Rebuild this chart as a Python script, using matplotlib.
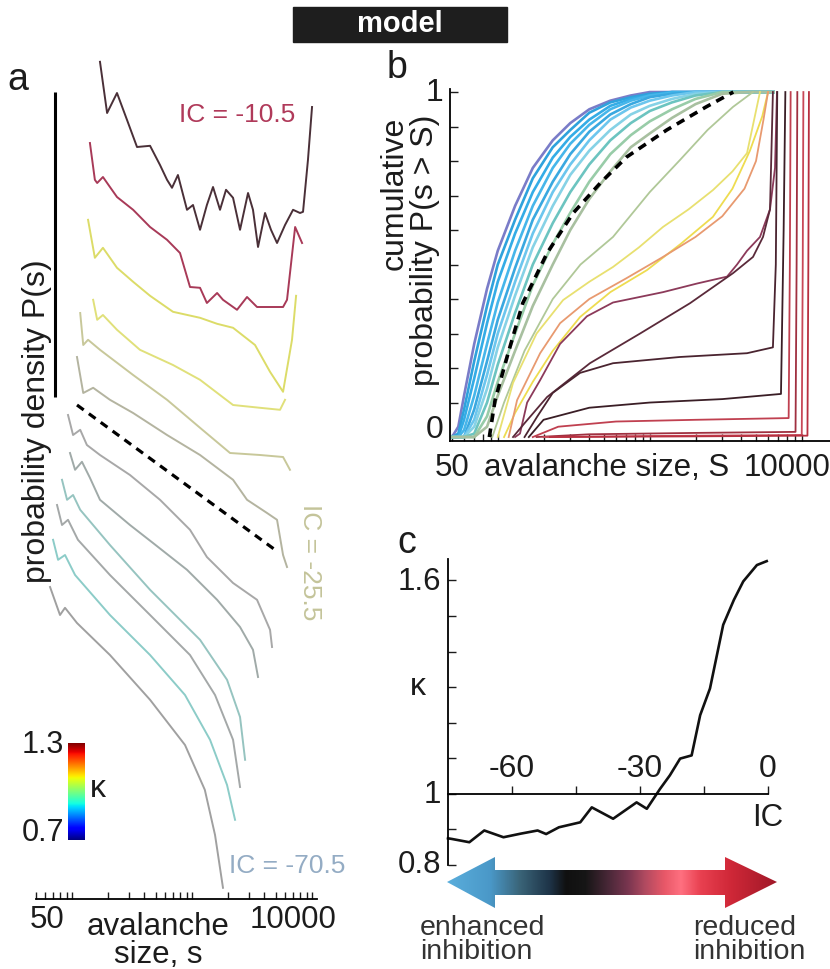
import numpy as np
import matplotlib
matplotlib.use('Agg')
import matplotlib.pyplot as plt
from matplotlib.colors import LinearSegmentedColormap
from matplotlib.patches import Polygon, Rectangle
from matplotlib.ticker import LogLocator, NullFormatter

plt.rcParams['font.family'] = ['Liberation Sans', 'DejaVu Sans']
INK = '#1c1c1c'

# ---------------- panel a: stacked size distributions (offset log10 P) -------------
pdf_sizes = [
    [171, 196, 237, 287, 348, 447, 541, 619, 681, 763, 908, 1019, 1166, 1330, 1496, 1711,
     1920, 2197, 2512, 2929, 3221, 3548, 4059, 4550, 5109, 5957, 6947, 7943, 8414, 9250, 10000],
    [141, 155, 162, 181, 207, 237, 323, 447, 619, 794, 962, 1166, 1330, 1618, 1811, 2371,
     2873, 3480, 4217, 5735, 6188, 7230, 8260],
    [136, 155, 181, 237, 323, 447, 694, 1166, 1618, 2197, 3349, 4467, 5735, 6810, 7364],
    [150, 162, 181, 237, 368, 694, 1166, 2197, 3690, 5412, 5957],
    [117, 124, 136, 171, 323, 619, 1166, 2074, 3690, 5735, 6550],
    [110, 124, 150, 207, 323, 619, 1166, 2197, 2873, 4217, 5109, 5735, 6188],
    [92.6, 102, 117, 133, 171, 304, 541, 962, 1330, 2197, 3480, 4467, 4642],
    [96.2, 106, 121, 141, 171, 304, 473, 908, 1618, 2512, 3221, 3548],
    [82.5, 90.9, 102, 117, 207, 447, 1166, 1958, 2512, 2768],
    [75.0, 82.5, 92.6, 112, 207, 447, 962, 1555, 2197, 2512],
    [69.5, 76.5, 87.4, 106, 207, 447, 874, 1413, 1958, 2283],
    [65.6, 79.4, 87.4, 110, 207, 447, 874, 1278, 1555, 1811],
]
pdf_logp = [
    [20.93, 19.65, 20.15, 19.48, 18.8, 18.83, 18.35, 17.98, 17.78, 18.1, 17.23, 17.35, 16.73,
     17.35, 17.8, 17.23, 17.73, 17.53, 16.73, 17.65, 17.23, 16.3, 17.15, 16.73, 16.4, 16.85,
     17.23, 17.15, 17.18, 18.48, 19.8],
    [18.9, 17.98, 17.9, 18.05, 17.8, 17.55, 17.23, 16.8, 16.48, 16.15, 15.3, 15.28, 14.9,
     15.15, 14.98, 14.73, 15.05, 14.8, 14.8, 14.8, 14.98, 16.8, 16.4],
    [16.98, 16.03, 16.28, 15.78, 15.43, 15.08, 14.68, 14.53, 14.38, 14.28, 13.85, 13.18,
     12.68, 13.98, 15.08],
    [14.98, 14.48, 14.6, 14.23, 13.73, 13.35, 12.98, 12.35, 12.28, 12.23, 12.48],
    [14.65, 13.85, 13.98, 13.73, 13.1, 12.48, 11.78, 11.15, 11.1, 11.05, 10.73],
    [13.55, 12.65, 12.78, 12.48, 12.15, 11.6, 11.1, 10.48, 9.98, 9.65, 9.48, 8.6, 8.3],
    [12.1, 11.6, 11.73, 11.35, 11.1, 10.6, 9.98, 9.23, 8.55, 7.9, 7.48, 6.73, 6.3],
    [11.15, 10.73, 10.93, 10.53, 9.98, 9.35, 8.9, 8.23, 7.48, 6.8, 6.23, 5.55],
    [10.48, 9.98, 10.1, 9.73, 8.85, 7.73, 6.48, 5.48, 4.55, 3.48],
    [9.85, 9.35, 9.48, 8.98, 8.1, 7.1, 6.1, 5.1, 3.98, 2.8],
    [8.98, 8.48, 8.6, 8.1, 7.1, 6.1, 5.1, 3.98, 2.85, 1.98],
    [7.8, 7.1, 7.28, 6.9, 6.1, 4.98, 3.85, 2.73, 1.6, 0.28],
]
pdf_colors = ['#4a3038', '#a83a58', '#dcdc68', '#e0e07a', '#c8c89a', '#b4b4a0',
              '#a8a8a8', '#a0aaa8', '#96c4c0', '#a4a8a8', '#8cccc8', '#a0a0a0']
pdf_ref_s = [110, 4921]
pdf_ref_logp = [12.35, 8.73]
scale_bar_s = 72
scale_bar_logp = [12.55, 20.18]

# ---------------- panel b: cumulative distributions ----------------
cdf_grid = [50, 55, 60, 70, 85, 100, 130, 170, 230, 300, 400, 550, 750, 1000, 1400,
            2000, 3000, 4500, 6500]
cdf_low_k = [
    [0, .03, .12, .27, .43, .54, .67, .78, .86, .91, .95, .975, .99, 1, 1, 1, 1, 1, 1],
    [0, .01, .08, .22, .38, .50, .63, .75, .84, .89, .94, .97, .985, .995, 1, 1, 1, 1, 1],
    [0, 0, .05, .17, .33, .45, .59, .71, .81, .87, .92, .96, .98, .99, 1, 1, 1, 1, 1],
    [0, 0, .02, .12, .27, .39, .54, .67, .78, .85, .905, .95, .975, .99, .998, 1, 1, 1, 1],
    [0, 0, 0, .08, .22, .34, .49, .63, .74, .82, .885, .935, .965, .985, .995, 1, 1, 1, 1],
    [0, 0, 0, .05, .18, .30, .45, .59, .71, .79, .86, .92, .955, .975, .99, 1, 1, 1, 1],
    [0, 0, 0, .03, .14, .26, .41, .55, .67, .76, .83, .89, .935, .96, .98, .995, 1, 1, 1],
    [0, 0, 0, .01, .10, .21, .36, .50, .62, .71, .79, .86, .91, .945, .97, .99, 1, 1, 1],
    [0, 0, 0, 0, .06, .16, .30, .44, .56, .65, .74, .82, .875, .915, .95, .98, 1, 1, 1],
    [0, 0, 0, 0, .03, .12, .25, .38, .50, .60, .69, .77, .84, .88, .925, .965, .995, 1, 1],
]
cdf_low_colors = ['#7a7cc8', '#2fa2dc', '#34ace6', '#46b6ea', '#3aa8e0', '#6cc6ee',
                  '#86d2e6', '#6cc4c0', '#98cca8', '#a8c0a0']

cdf_high_s = [
    [92, 110, 150, 230, 350, 573, 1000, 1580, 2400, 3530, 4777],
    [100, 126, 180, 269, 400, 573, 850, 1222, 1800, 2607, 3500, 4364, 5311],
    [110, 130, 170, 230, 348, 550, 959, 1600, 2600, 3500, 4560, 5500, 6000],
    [118, 134, 190, 257, 400, 700, 1200, 2000, 3000, 4200, 5000, 5600, 6000],
    [130, 140, 156, 190, 257, 386, 573, 1222, 2046, 3224, 3750, 4364, 5311, 6181, 6667, 6871],
    [126, 150, 211, 404, 863, 1841, 3530, 4777, 5560, 6181, 6460],
    [150, 181, 230, 348, 573, 1569, 4364, 6460, 6750, 6900],
    [160, 200, 400, 1000, 3000, 7300, 7600, 7800],
    [170, 250, 600, 2000, 8200, 8350, 8450],
    [180, 400, 2000, 9100, 9250, 9350],
    [200, 1000, 10000, 10150, 10250],
    [220, 2000, 10900, 11050, 11150],
]
cdf_high = [
    [0, .1, .25, .40, .50, .58, .71, .803, .89, .957, 1.0],
    [0, .157, .30, .397, .45, .493, .55, .609, .66, .716, .77, .823, 1.0],
    [0, .07, .16, .25, .348, .42, .484, .56, .638, .72, .83, .93, 1.0],
    [0, .107, .243, .33, .40, .46, .52, .58, .64, .72, .80, .92, 1.0],
    [0, .01, .10, .165, .27, .35, .39, .42, .445, .465, .50, .54, .58, .66, .78, 1.0],
    [0, .04, .116, .214, .30, .388, .475, .522, .58, .66, 1.0],
    [0, .058, .128, .186, .214, .232, .243, .26, .5, 1.0],
    [0, .05, .085, .10, .11, .125, .6, 1.0],
    [0, .03, .045, .05, .055, .5, 1.0],
    [0, .008, .012, .015, .5, 1.0],
    [0, .003, .006, .5, 1.0],
    [0, .002, .004, .5, 1.0],
]
cdf_high_colors = ['#b0c898', '#e8e070', '#eedc50', '#e89a70', '#8c3a5a', '#5a2a3a',
                   '#4a2430', '#3a1e26', '#c04050', '#a03040', '#c84858', '#b83040']
cdf_ref_s = [88, 96, 117, 146, 211, 313, 472, 706, 1293, 2349, 3545]
cdf_ref = [0, .107, .243, .388, .533, .649, .736, .812, .89, .957, 1.0]

# ---------------- panel c: kappa vs IC ----------------
ic_values = [-75, -74, -70, -66.5, -62, -58, -54, -52, -49, -44, -41.3, -36.3, -30.8, -28.4,
             -25.3, -23, -20.6, -17.9, -15.9, -13.6, -10.5, -8, -5.8, -2.6, -0.3]
kappa_values = [0.875, 0.873, 0.864, 0.897, 0.878, 0.888, 0.897, 0.887, 0.906, 0.92, 0.962,
                0.93, 0.976, 0.958, 1.014, 1.052, 1.099, 1.108, 1.221, 1.296, 1.475, 1.545,
                1.597, 1.643, 1.654]

W, H = 830, 969
fig = plt.figure(figsize=(W / 100, H / 100), dpi=100)


def box(left, top, right, bottom):
    return [left / W, 1 - bottom / H, (right - left) / W, (bottom - top) / H]


def ftext(px, py, s, **kw):
    kw.setdefault('color', INK)
    kw.setdefault('ha', 'center')
    kw.setdefault('va', 'center')
    fig.text(px / W, 1 - py / H, s, **kw)


def log_axis(ax):
    ax.set_xscale('log')
    ax.xaxis.set_major_locator(LogLocator(base=10))
    ax.xaxis.set_minor_locator(LogLocator(base=10, subs=np.arange(2, 10)))
    ax.xaxis.set_major_formatter(NullFormatter())
    ax.xaxis.set_minor_formatter(NullFormatter())
    ax.tick_params(axis='x', which='both', direction='in', length=5, width=1, color=INK)


# header
fig.patches.append(Rectangle((293 / W, 1 - 42 / H), 214 / W, 35 / H,
                             transform=fig.transFigure, color='#1e1e1e'))
ftext(400, 24, 'model', color='white', fontsize=21, fontweight='bold')

# ---- panel a
ax_a = fig.add_axes(box(35.9, 39, 317, 899))
for s, lp, c in zip(pdf_sizes, pdf_logp, pdf_colors):
    ax_a.plot(s, lp, color=c, lw=1.4, solid_joinstyle='round')
ax_a.plot(pdf_ref_s, pdf_ref_logp, color='k', lw=2.3, ls=(0, (2.6, 2.0)))
ax_a.plot([scale_bar_s, scale_bar_s], scale_bar_logp, color='k', lw=2.2,
          solid_capstyle='butt')
log_axis(ax_a)
ax_a.set_xlim(50, 11000)
ax_a.set_ylim(0, 21.5)
ax_a.set_yticks([])
for side in ['left', 'right', 'top']:
    ax_a.spines[side].set_visible(False)
ax_a.spines['bottom'].set_linewidth(1.3)
ax_a.patch.set_alpha(0)

ftext(18, 80, 'a', fontsize=27)
ftext(237, 115, 'IC = -10.5', color='#b03a5a', fontsize=19)
ftext(310, 562, 'IC = -25.5', color='#c4c49a', fontsize=19, rotation=270)
ftext(287, 866, 'IC = -70.5', color='#94acc4', fontsize=19)
ftext(37, 421, 'probability density P(s)', fontsize=23, rotation=90)
ftext(47, 920, '50', fontsize=22.5)
ftext(293, 920, '10000', fontsize=22.5)
ftext(158, 941, 'avalanche\nsize, s', fontsize=22.5, linespacing=0.9)

# kappa colour scale
ax_cb = fig.add_axes(box(68, 743, 85, 840))
ax_cb.imshow(np.linspace(0, 1, 256)[:, None], aspect='auto', cmap='jet', origin='lower')
ax_cb.axis('off')
ftext(64, 745, '1.3', fontsize=22, ha='right')
ftext(64, 833, '0.7', fontsize=22, ha='right')
ftext(98, 789, 'κ', fontsize=23)

# ---- panel b
ax_b = fig.add_axes(box(450, 88.6, 830, 440.5))
for y, c in zip(cdf_low_k, cdf_low_colors):
    ax_b.plot(cdf_grid, y, color=c, lw=1.9)
for s, y, c in zip(cdf_high_s, cdf_high, cdf_high_colors):
    ax_b.plot(s, y, color=c, lw=1.3)
ax_b.plot(cdf_ref_s, cdf_ref, color='k', lw=2.6, ls=(0, (2.4, 1.8)))
log_axis(ax_b)
ax_b.set_xlim(48.5, 15340)
ax_b.set_ylim(-0.01, 1.01)
ax_b.set_yticks(np.linspace(0, 1, 11))
ax_b.set_yticklabels([])
ax_b.tick_params(axis='y', direction='in', length=6, width=1, color=INK)
for side in ['right', 'top']:
    ax_b.spines[side].set_visible(False)
for side in ['left', 'bottom']:
    ax_b.spines[side].set_linewidth(1.3)

ftext(397, 68, 'b', fontsize=27)
ftext(443, 93, '1', fontsize=23, ha='right')
ftext(443, 430, '0', fontsize=23, ha='right')
ftext(395, 193, 'cumulative', fontsize=23, rotation=90)
ftext(425, 250, 'probability P(s > S)', fontsize=23, rotation=90)
ftext(452, 468, '50', fontsize=22.5)
ftext(607, 468, 'avalanche size, S', fontsize=22.5)
ftext(787, 468, '10000', fontsize=22.5)

# ---- panel c
ax_c = fig.add_axes(box(448, 559, 768, 865))
ax_c.plot(ic_values, kappa_values, color='#111111', lw=1.9, clip_on=False)
ax_c.set_xlim(-75, 0)
ax_c.set_ylim(0.8, 1.66)
ax_c.spines['bottom'].set_position(('data', 1.0))
for side in ['right', 'top']:
    ax_c.spines[side].set_visible(False)
for side in ['left', 'bottom']:
    ax_c.spines[side].set_linewidth(1.3)
ax_c.set_xticks([-60, -45, -30, -15, 0])
ax_c.set_xticklabels([])
ax_c.set_yticks(np.arange(0.8, 1.65, 0.1))
ax_c.set_yticklabels([])
ax_c.tick_params(direction='in', length=6, width=1, color=INK)
for v in [-60, -30, 0]:
    ax_c.annotate(str(v), (v, 1.0), xytext=(0, 7), textcoords='offset points',
                  ha='center', va='bottom', fontsize=23, color=INK)
ax_c.patch.set_alpha(0)

ftext(407, 543, 'c', fontsize=27)
ftext(441, 582, '1.6', fontsize=22.5, ha='right')
ftext(441, 795, '1', fontsize=22.5, ha='right')
ftext(441, 865, '0.8', fontsize=22.5, ha='right')
ftext(418, 687, 'κ', fontsize=23)
ftext(768, 818, 'IC', fontsize=22.5)

# inhibition arrow with colour gradient
ax_arr = fig.add_axes(box(440, 850, 785, 915))
ax_arr.set_xlim(440, 785)
ax_arr.set_ylim(915, 850)
ax_arr.axis('off')
arrow_pts = [(447, 882), (495, 857), (495, 870), (725, 870), (725, 857), (777, 882),
             (725, 908), (725, 895), (495, 895), (495, 908)]
arrow = Polygon(arrow_pts, closed=True, facecolor='none', edgecolor='none')
ax_arr.add_patch(arrow)
inh_cmap = LinearSegmentedColormap.from_list('inhibition', [
    (0.00, '#5aaedc'), (0.13, '#4a98c8'), (0.22, '#3a6478'), (0.31, '#1e3448'),
    (0.36, '#101010'), (0.42, '#161616'), (0.49, '#4a2838'), (0.55, '#7a3650'),
    (0.60, '#b04a60'), (0.66, '#e85868'), (0.71, '#ff7080'), (0.77, '#e84050'),
    (0.86, '#d02838'), (1.00, '#a01828')])
grad = ax_arr.imshow(np.linspace(0, 1, 512)[None, :], aspect='auto', cmap=inh_cmap,
                     extent=(447, 777, 910, 855))
grad.set_clip_path(arrow)

ftext(420, 928, 'enhanced', fontsize=20.5, ha='left', color='#333333')
ftext(420, 952, 'inhibition', fontsize=20.5, ha='left', color='#333333')
ftext(693, 928, 'reduced', fontsize=20.5, ha='left', color='#333333')
ftext(693, 952, 'inhibition', fontsize=20.5, ha='left', color='#333333')

fig.savefig('out.png', dpi=100)
